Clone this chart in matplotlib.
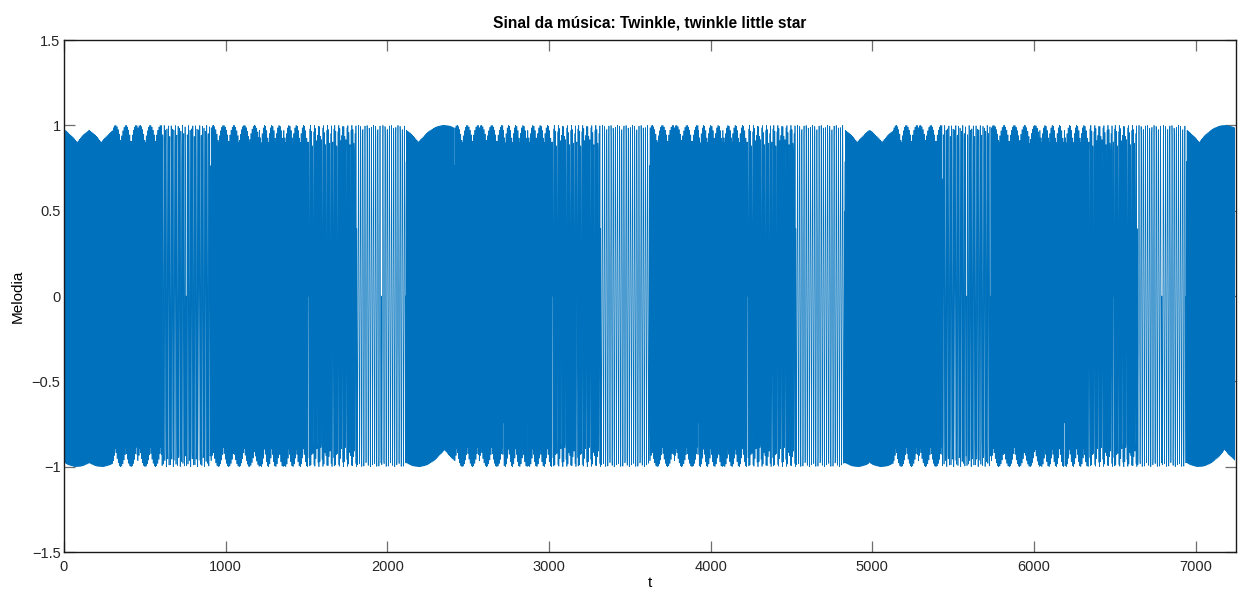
import numpy as np
import matplotlib
matplotlib.use("Agg")
import matplotlib.pyplot as plt

plt.rcParams['font.family'] = ['Liberation Sans', 'DejaVu Sans']

# Melody: Twinkle, twinkle little star (notes and beats)
notes = ['C', 'C', 'G', 'G', 'A', 'A', 'G',
         'F', 'F', 'E', 'E', 'D', 'D', 'C',
         'G', 'G', 'F', 'F', 'E', 'E', 'D',
         'G', 'G', 'F', 'F', 'E', 'E', 'D',
         'C', 'C', 'G', 'G', 'A', 'A', 'G',
         'F', 'F', 'E', 'E', 'D', 'D', 'C']
beats = [1, 1, 1, 1, 1, 1, 2] * 6
note_names = ['C', 'D', 'E', 'F', 'G', 'A']
note_freqs = [261.6256, 293.6648, 329.6276, 349.2282, 391.9954, 440.0]
fs = 152.575             # sampling rate (samples per second)
beat_samples = 150       # samples per beat

x_ticks = [0, 1000, 2000, 3000, 4000, 5000, 6000, 7000]
y_ticks = [-1.5, -1, -0.5, 0, 0.5, 1, 1.5]
y_tick_labels = ['\u22121.5', '\u22121', '\u22120.5', '0', '0.5', '1', '1.5']

freq_of = dict(zip(note_names, note_freqs))
pieces = []
for nt, b in zip(notes, beats):
    t = np.arange(beat_samples * b + 1) / fs
    pieces.append(np.sin(2 * np.pi * freq_of[nt] * t))
y = np.concatenate(pieces)
x = np.arange(1, len(y) + 1)

fig = plt.figure(figsize=(12.38, 5.91), dpi=100)
ax = fig.add_axes([64/1238, 1 - 552/591, (1236 - 64)/1238, (552 - 40)/591])
ax.plot(x, y, color='#0072BD', lw=0.5)
ax.set_xlim(0, 7250)
ax.set_ylim(-1.5, 1.5)
ax.set_xticks(x_ticks)
ax.set_yticks(y_ticks)
ax.set_yticklabels(y_tick_labels)
ax.tick_params(direction='in', length=8, width=0.9, top=True, right=True,
               labelsize=10.5, color='#6e6e6e', labelcolor='#262626')
ax.tick_params(axis='x', pad=5.5)
ax.tick_params(axis='y', pad=2.5)
for s in ax.spines.values():
    s.set_linewidth(1.0)
    s.set_color('#1a1a1a')
ax.set_title('Sinal da música: Twinkle, twinkle little star', fontsize=11.2,
             fontweight='bold', pad=9)
ax.set_xlabel('t', fontsize=11, labelpad=2)
ax.set_ylabel('Melodia', fontsize=11, labelpad=5)
fig.savefig('out.png')
